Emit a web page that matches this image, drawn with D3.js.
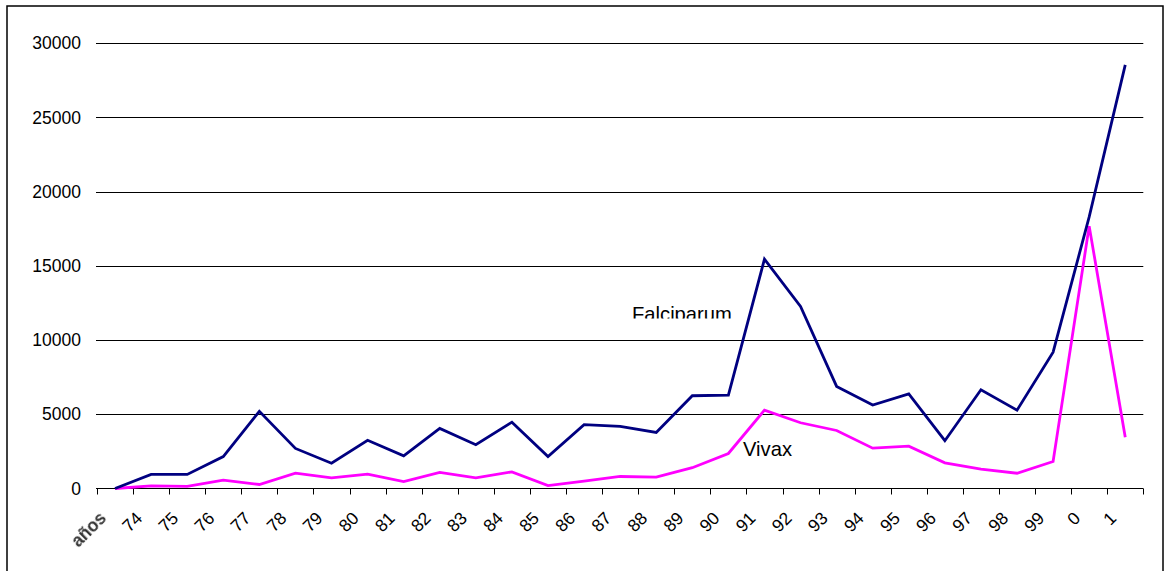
<!DOCTYPE html>
<html>
<head>
<meta charset="utf-8">
<script src="https://cdn.jsdelivr.net/npm/d3@7"></script>
<style>
  html, body { margin: 0; padding: 0; background: #fff; }
  svg { display: block; }
  text { font-family: "Liberation Sans", Arial, sans-serif; }
</style>
</head>
<body>
<svg id="chart" width="1166" height="571"></svg>
<script>
const categories = ["años","74","75","76","77","78","79","80","81","82","83","84","85","86","87","88","89","90","91","92","93","94","95","96","97","98","99","0","1"];
const falciparum = [0,950,950,2150,5200,2700,1700,3250,2200,4050,2950,4470,2150,4300,4180,3780,6250,6290,15450,12270,6880,5620,6380,3220,6650,5280,9190,18300,28550];
const vivax = [0,180,140,560,270,1030,720,970,470,1080,720,1120,200,490,810,770,1400,2360,5280,4430,3910,2720,2850,1730,1300,1030,1820,17680,3460];
const yTicks = [0,5000,10000,15000,20000,25000,30000];
const seriesLabels = ["Falciparum","Vivax"];

const svg = d3.select("#chart");

// chart border
svg.append("rect")
  .attr("x", 7).attr("y", 6)
  .attr("width", 1156).attr("height", 620)
  .attr("fill", "none").attr("stroke", "#000").attr("stroke-width", 1.5);

const x = d3.scaleBand().domain(categories).range([97, 1143.3]).paddingInner(0).paddingOuter(0);
const y = d3.scaleLinear().domain([0, 30000]).range([488.5, 43.3]);

// gridlines + y labels
const yAxis = d3.axisLeft(y).tickValues(yTicks).tickSize(0).tickPadding(15).tickFormat(d3.format("d"));
const gy = svg.append("g").attr("transform", "translate(96,0)").call(yAxis);
gy.select(".domain").remove();
gy.selectAll("text").attr("font-size", "17.5px").attr("fill", "#000")
  .attr("font-family", "'Liberation Sans', Arial, sans-serif");
svg.append("g").selectAll("line").data(yTicks.filter(d => d > 0)).join("line")
  .attr("x1", 96).attr("x2", 1143.3)
  .attr("y1", d => Math.round(y(d)) + 0.5).attr("y2", d => Math.round(y(d)) + 0.5)
  .attr("stroke", "#000").attr("stroke-width", 1);

// x axis
const xAxisG = svg.append("g").attr("transform", "translate(0,488.5)");
xAxisG.append("line").attr("x1", 96).attr("x2", 1143.3).attr("y1", 0).attr("y2", 0)
  .attr("stroke", "#000").attr("stroke-width", 1.2);
const boundaries = categories.map(c => x(c)).concat([x.range()[1]]);
xAxisG.selectAll("line.tick").data(boundaries).join("line").attr("class", "tick")
  .attr("x1", d => Math.round(d) + 0.5).attr("x2", d => Math.round(d) + 0.5)
  .attr("y1", 0).attr("y2", 6).attr("stroke", "#000").attr("stroke-width", 1);

// blur filter for "años"
const defs = svg.append("defs");
defs.append("filter").attr("id", "blur").append("feGaussianBlur").attr("stdDeviation", 0.7);
defs.append("clipPath").attr("id", "clipF").append("rect")
  .attr("x", 0).attr("y", 0).attr("width", 1166).attr("height", 318.5);

svg.append("g").selectAll("text").data(categories).join("text")
  .attr("transform", d => `translate(${x(d) + x.bandwidth() / 2 - 12},515) rotate(-45)`)
  .attr("text-anchor", "end")
  .attr("dominant-baseline", "central")
  .attr("font-size", "17.5px")
  .attr("fill", (d, i) => i === 0 ? "#333" : "#000")
  .attr("filter", (d, i) => i === 0 ? "url(#blur)" : null)
  .attr("font-weight", (d, i) => i === 0 ? "bold" : null)
  .text(d => d);

// lines
const line = d3.line().x((d, i) => x(categories[i]) + x.bandwidth() / 2).y(d => y(d));
svg.append("path").datum(vivax).attr("d", line)
  .attr("fill", "none").attr("stroke", "#FF00FF").attr("stroke-width", 2.8).attr("stroke-linejoin", "miter");
svg.append("path").datum(falciparum).attr("d", line)
  .attr("fill", "none").attr("stroke", "#000080").attr("stroke-width", 2.8).attr("stroke-linejoin", "miter");

// series labels
svg.append("text").attr("x", 632).attr("y", 320.6)
  .attr("font-size", "20.2px").attr("fill", "#000").attr("clip-path", "url(#clipF)")
  .text(seriesLabels[0]);
svg.append("text").attr("x", 743).attr("y", 456)
  .attr("font-size", "20.2px").attr("fill", "#000")
  .text(seriesLabels[1]);
</script>
</body>
</html>
